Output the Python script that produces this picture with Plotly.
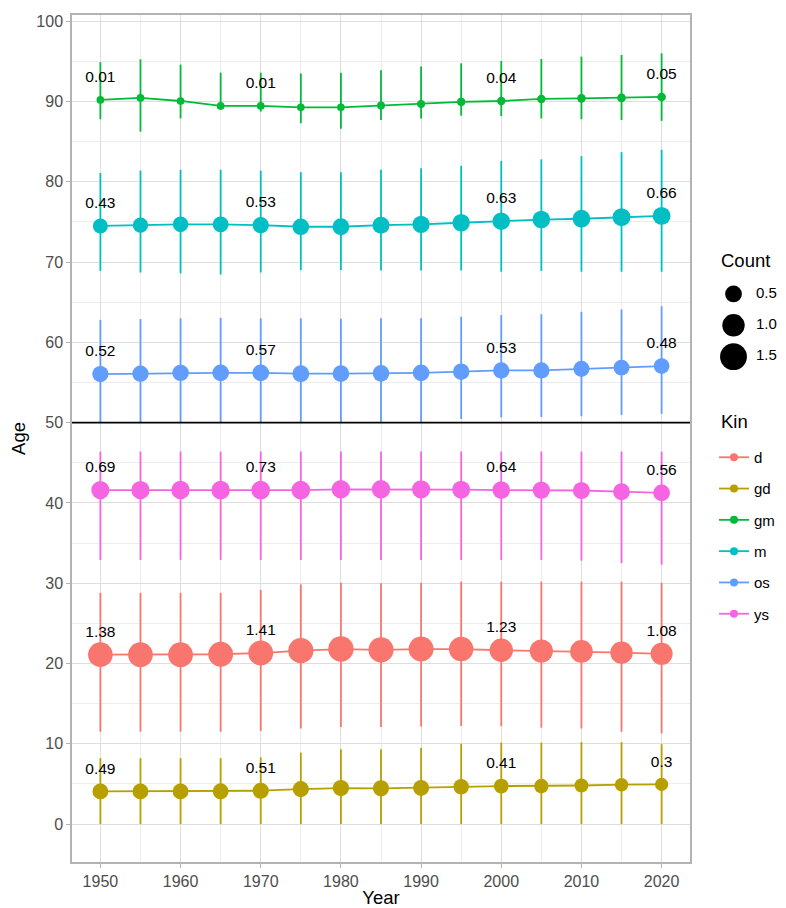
import plotly.graph_objects as go

# ---------------- data ----------------
years = [1950, 1955, 1960, 1965, 1970, 1975, 1980, 1985, 1990, 1995, 2000, 2005, 2010, 2015, 2020]
kin_names = ["d", "gd", "gm", "m", "os", "ys"]
kin_colors = ["#F8766D", "#B79F00", "#00BA38", "#00BFC4", "#619CFF", "#F564E3"]

d_mean = [21.1, 21.1, 21.1, 21.15, 21.3, 21.6, 21.8, 21.7, 21.8, 21.8, 21.65, 21.55, 21.5, 21.35, 21.2]
d_lo = [11.5, 11.5, 11.5, 11.5, 11.6, 11.9, 12.1, 12.1, 12.15, 12.2, 12.2, 12.0, 11.9, 11.5, 11.3]
d_hi = [28.8, 28.8, 28.8, 28.8, 29.15, 29.85, 30.05, 30.0, 30.05, 30.2, 30.2, 30.2, 30.2, 30.2, 30.05]
d_count = [1.38, 1.39, 1.40, 1.40, 1.41, 1.45, 1.47, 1.45, 1.42, 1.36, 1.23, 1.20, 1.15, 1.12, 1.08]

gd_mean = [4.06, 4.06, 4.06, 4.08, 4.15, 4.35, 4.48, 4.45, 4.50, 4.64, 4.73, 4.73, 4.80, 4.90, 4.93]
gd_lo = [0.0, 0.0, 0.0, 0.0, 0.0, 0.0, 0.0, 0.0, 0.0, 0.0, 0.0, 0.0, 0.0, 0.0, 0.0]
gd_hi = [8.2, 8.2, 8.2, 8.2, 8.3, 8.9, 9.3, 9.3, 9.5, 10.0, 10.15, 10.15, 10.2, 10.2, 9.95]
gd_count = [0.49, 0.49, 0.49, 0.50, 0.51, 0.52, 0.53, 0.52, 0.50, 0.46, 0.41, 0.38, 0.35, 0.32, 0.30]

gm_mean = [90.2, 90.45, 90.07, 89.45, 89.45, 89.28, 89.28, 89.5, 89.7, 89.95, 90.07, 90.32, 90.4, 90.45, 90.57]
gm_lo = [87.8, 86.25, 87.9, 88.95, 88.75, 87.3, 86.6, 87.7, 87.9, 88.25, 88.2, 87.9, 87.8, 87.7, 87.6]
gm_hi = [94.9, 95.26, 94.6, 93.6, 93.6, 93.5, 93.6, 93.9, 94.35, 94.76, 95.05, 95.3, 95.6, 95.8, 96.0]
gm_count = [0.01, 0.01, 0.01, 0.01, 0.01, 0.01, 0.01, 0.02, 0.02, 0.03, 0.04, 0.04, 0.05, 0.05, 0.05]

m_mean = [74.5, 74.6, 74.7, 74.7, 74.6, 74.4, 74.4, 74.6, 74.7, 74.9, 75.1, 75.3, 75.4, 75.6, 75.75]
m_lo = [68.9, 68.7, 68.6, 68.45, 68.7, 69.0, 69.0, 68.95, 68.95, 68.95, 68.8, 68.9, 68.8, 68.8, 68.8]
m_hi = [81.1, 81.4, 81.5, 81.5, 81.4, 81.2, 81.2, 81.5, 81.7, 82.0, 82.6, 82.8, 83.2, 83.7, 84.0]
m_count = [0.43, 0.45, 0.47, 0.50, 0.53, 0.55, 0.57, 0.58, 0.60, 0.62, 0.63, 0.64, 0.65, 0.66, 0.66]

os_mean = [56.05, 56.1, 56.2, 56.2, 56.2, 56.1, 56.1, 56.15, 56.2, 56.35, 56.5, 56.5, 56.7, 56.85, 57.05]
os_lo = [50.0, 50.0, 50.0, 50.0, 50.0, 50.0, 50.0, 50.0, 50.0, 50.45, 50.65, 50.7, 50.8, 50.95, 51.1]
os_hi = [62.8, 62.9, 63.0, 63.05, 63.0, 63.0, 62.95, 63.0, 63.0, 63.2, 63.4, 63.5, 63.8, 64.1, 64.5]
os_count = [0.52, 0.53, 0.54, 0.56, 0.57, 0.57, 0.56, 0.56, 0.55, 0.54, 0.53, 0.52, 0.51, 0.49, 0.48]

ys_mean = [41.6, 41.6, 41.6, 41.6, 41.6, 41.6, 41.7, 41.7, 41.7, 41.65, 41.6, 41.6, 41.55, 41.4, 41.25]
ys_lo = [32.9, 32.9, 32.9, 32.9, 32.9, 32.9, 32.9, 32.9, 32.9, 32.9, 32.9, 32.9, 32.8, 32.5, 32.3]
ys_hi = [46.4, 46.4, 46.4, 46.4, 46.4, 46.4, 46.4, 46.4, 46.4, 46.4, 46.4, 46.4, 46.4, 46.4, 46.4]
ys_count = [0.69, 0.70, 0.71, 0.72, 0.73, 0.73, 0.72, 0.71, 0.69, 0.67, 0.64, 0.62, 0.60, 0.58, 0.56]

label_years = [1950, 1970, 2000, 2020]
count_breaks = [0.5, 1.0, 1.5]
divider_age = 50
x_ticks = [1950, 1960, 1970, 1980, 1990, 2000, 2010, 2020]
y_ticks = [0, 10, 20, 30, 40, 50, 60, 70, 80, 90, 100]

# ---------------- styling ----------------
FONT = "Liberation Sans, Arial, Helvetica, sans-serif"
LABEL_NUDGE = 2.7


def size_px(c):
    # area-proportional size scale
    return (55 + 400 * c) ** 0.5


series = [
    (d_mean, d_lo, d_hi, d_count),
    (gd_mean, gd_lo, gd_hi, gd_count),
    (gm_mean, gm_lo, gm_hi, gm_count),
    (m_mean, m_lo, m_hi, m_count),
    (os_mean, os_lo, os_hi, os_count),
    (ys_mean, ys_lo, ys_hi, ys_count),
]

fig = go.Figure()

for name, color, (mean, lo, hi, cnt) in zip(kin_names, kin_colors, series):
    fig.add_trace(go.Scatter(
        x=years, y=mean, mode="lines+markers", name=name, showlegend=False,
        line=dict(color=color, width=1.8),
        marker=dict(color=color, size=[size_px(c) for c in cnt], opacity=1, line=dict(width=0)),
        error_y=dict(type="data", symmetric=False,
                     array=[h - m for h, m in zip(hi, mean)],
                     arrayminus=[m - l for m, l in zip(mean, lo)],
                     color=color, thickness=1.8, width=0),
        hoverinfo="skip",
    ))

# count labels
for mean, lo, hi, cnt in series:
    lx, ly, lt = [], [], []
    for yr, m, c in zip(years, mean, cnt):
        if yr in label_years:
            lx.append(yr)
            ly.append(m + LABEL_NUDGE)
            lt.append(f"{round(c, 2):g}")
    fig.add_trace(go.Scatter(
        x=lx, y=ly, mode="text", text=lt, textposition="middle center",
        textfont=dict(family=FONT, size=15.5, color="black"),
        showlegend=False, hoverinfo="skip", cliponaxis=False,
    ))

# Kin legend entries
for name, color in zip(kin_names, kin_colors):
    fig.add_trace(go.Scatter(
        x=[None], y=[None], mode="lines+markers", name=name, legendgroup=name,
        line=dict(color=color, width=1.8),
        marker=dict(color=color, size=8, opacity=1),
        showlegend=True,
    ))

# Count size legend (helper axes)
fig.add_trace(go.Scatter(
    x=[0] * len(count_breaks), y=count_breaks, mode="markers",
    marker=dict(color="black", size=[size_px(c) * 1.05 for c in count_breaks], opacity=1, line=dict(width=0)),
    xaxis="x2", yaxis="y2", showlegend=False, hoverinfo="skip", cliponaxis=False,
))
fig.add_trace(go.Scatter(
    x=[1] * len(count_breaks), y=count_breaks, mode="text",
    text=[f"{c:.1f}" for c in count_breaks], textposition="middle right",
    textfont=dict(family=FONT, size=15, color="black"),
    xaxis="x2", yaxis="y2", showlegend=False, hoverinfo="skip", cliponaxis=False,
))

fig.add_shape(type="line", xref="x domain", x0=0, x1=1, yref="y", y0=divider_age, y1=divider_age,
              line=dict(color="black", width=1.8), layer="above")

# the page body adds an 8px offset; figure is sized to fit the window
OFF = 8
W, H = 786 - OFF, 908 - OFF
ML, MR, MT, MB = 72 - OFF, 0, 15 - OFF, 46
PW, PH = W - ML - MR, H - MT - MB


def px_x(p):
    # reference page pixel -> paper fraction
    return (p - OFF - ML) / PW


def px_y(p):
    return (H - MB - (p - OFF)) / PH


grid_major = "#DEDEDE"
grid_minor = "#EDEDED"
border = "#B3B3B3"

fig.update_layout(
    width=W, height=H,
    margin=dict(l=ML, r=MR, t=MT, b=MB, autoexpand=False),
    paper_bgcolor="white", plot_bgcolor="white",
    font=dict(family=FONT, color="black"),
    xaxis=dict(
        domain=[0, px_x(690)], range=[1946.46, 2023.54],
        tickvals=x_ticks, ticks="outside", ticklen=4, tickcolor=border, tickwidth=1,
        tickfont=dict(family=FONT, size=16, color="#4D4D4D"),
        showgrid=True, gridcolor=grid_major, gridwidth=1,
        minor=dict(dtick=5, tick0=1950, showgrid=True, gridcolor=grid_minor, gridwidth=1, ticks=""),
        showline=True, mirror=True, linecolor=border, linewidth=1.5,
        zeroline=False,
        title=dict(text="Year", font=dict(family=FONT, size=18.5, color="black"), standoff=5),
    ),
    yaxis=dict(
        domain=[0, 1], range=[-4.73, 100.78],
        tickvals=y_ticks, ticks="outside", ticklen=4, tickcolor=border, tickwidth=1,
        tickfont=dict(family=FONT, size=16, color="#4D4D4D"),
        showgrid=True, gridcolor=grid_major, gridwidth=1,
        minor=dict(dtick=5, tick0=0, showgrid=True, gridcolor=grid_minor, gridwidth=1, ticks=""),
        showline=True, mirror=True, linecolor=border, linewidth=1.5,
        zeroline=False,
        title=dict(text="Age", font=dict(family=FONT, size=18.5, color="black"), standoff=8),
    ),
    xaxis2=dict(domain=[px_x(720), 1], range=[-0.6, 2.333], visible=False, fixedrange=True),
    yaxis2=dict(domain=[px_y(372.3), px_y(278.3)], range=[1.75, 0.25], visible=False, fixedrange=True),
    legend=dict(
        x=px_x(714), xanchor="left", y=px_y(441), yanchor="top",
        font=dict(family=FONT, size=15, color="black"),
        tracegroupgap=8.8, itemsizing="trace", bgcolor="rgba(0,0,0,0)",
    ),
    annotations=[
        dict(text="Count", xref="paper", yref="paper", x=px_x(719), y=px_y(260),
             xanchor="left", yanchor="middle", showarrow=False,
             font=dict(family=FONT, size=18.5, color="black")),
        dict(text="Kin", xref="paper", yref="paper", x=px_x(719), y=px_y(421.7),
             xanchor="left", yanchor="middle", showarrow=False,
             font=dict(family=FONT, size=18.5, color="black")),
    ],
)

fig.write_html("out.html")
